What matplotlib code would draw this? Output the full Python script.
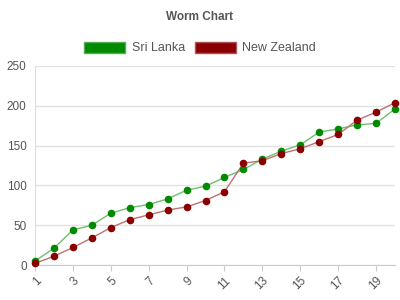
import matplotlib.pyplot as plt
from matplotlib.patches import Patch
import numpy as np

plt.rcParams['font.family'] = ['Liberation Sans', 'DejaVu Sans']

overs = list(range(1, 21))
sri_lanka = [5, 21, 44, 50, 65, 72, 76, 83, 94, 99,
             110, 120, 133, 143, 151, 167, 171, 176, 178, 196]
new_zealand = [2, 11, 22, 34, 47, 57, 63, 69, 73, 81,
               92, 128, 131, 140, 146, 155, 164, 182, 192, 204]
y_ticks = [0, 50, 100, 150, 200, 250]

green_dark = '#008a00'
green_line = '#6fbf6f'
red_dark = '#8a0000'
red_line = '#c07070'
text_grey = '#555555'

fig = plt.figure(figsize=(4, 3), dpi=100)
ax = fig.add_axes([35 / 400, 35 / 300, 360 / 400, 199 / 300])

ax.plot(overs, sri_lanka, color=green_line, lw=1, zorder=3)
ax.scatter(overs, sri_lanka, s=20, color=green_dark, edgecolors=green_dark,
           zorder=4, clip_on=False)
ax.plot(overs, new_zealand, color=red_line, lw=1, zorder=3)
ax.scatter(overs, new_zealand, s=20, color=red_dark, edgecolors=red_dark,
           zorder=4, clip_on=False)

ax.set_xlim(1, 20)
ax.set_ylim(0, 250)
ax.set_yticks(y_ticks)
ax.set_xticks(overs[::2])
ax.set_xticklabels([str(v) for v in overs[::2]], rotation=45, ha='right',
                   rotation_mode='anchor')
ax.tick_params(axis='y', length=0, pad=6, labelsize=8.5, labelcolor=text_grey)
ax.tick_params(axis='x', length=4, color='#cccccc', labelsize=8.5, labelcolor=text_grey, pad=3)
ax.grid(axis='y', color='#e3e3e3', lw=1)
ax.set_axisbelow(True)
for side in ['top', 'right']:
    ax.spines[side].set_visible(False)
ax.spines['left'].set_color('#dddddd')
ax.spines['bottom'].set_color('#cccccc')

fig.text(0.5, 1 - 17 / 300, 'Worm Chart', ha='center', va='center',
         fontsize=8.5, fontweight='bold', color=text_grey)

handles = [Patch(facecolor=green_dark, edgecolor='#55aa55', label='Sri Lanka'),
           Patch(facecolor=red_dark, edgecolor='#aa5555', label='New Zealand')]
fig.legend(handles=handles, loc='center', bbox_to_anchor=(0.5, 1 - 48 / 300), ncol=2,
           frameon=False, fontsize=9, handlelength=3.3, handleheight=1.0,
           columnspacing=0.8, handletextpad=0.5, labelcolor=text_grey)

fig.savefig('out.png', dpi=100)
